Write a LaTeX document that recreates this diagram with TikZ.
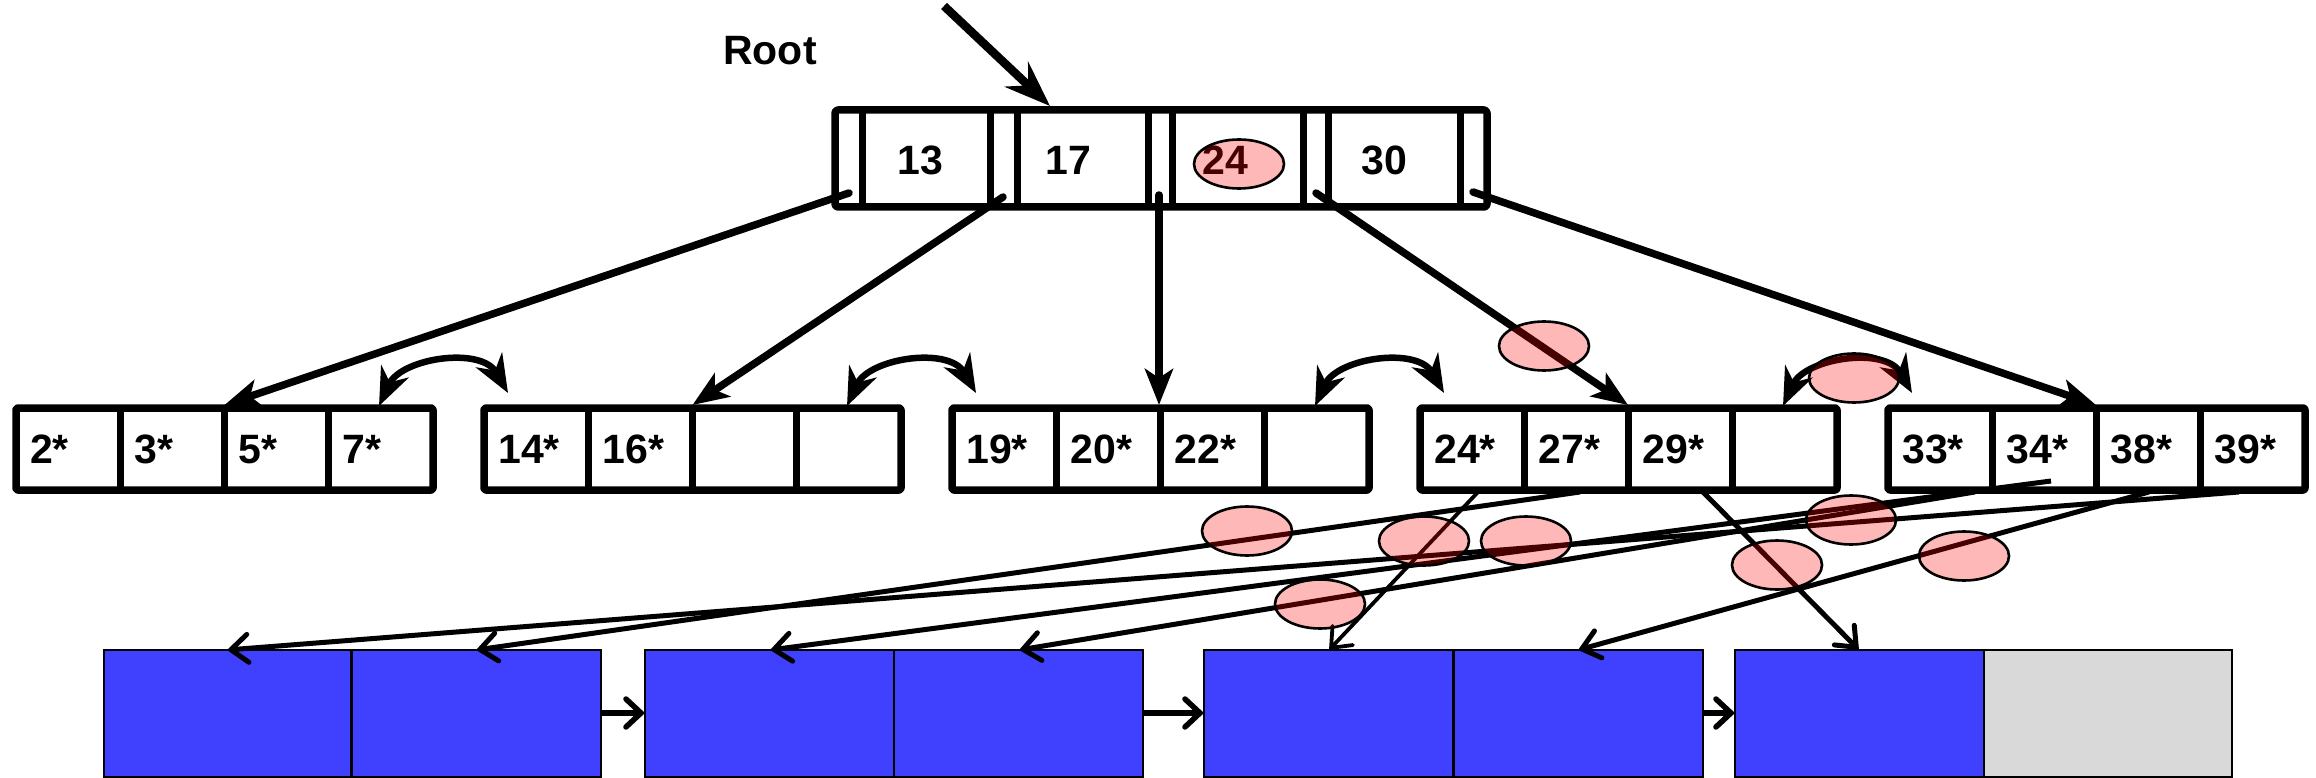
\documentclass[tikz,border=0pt]{standalone}
\usepackage{fontspec}
\setmainfont{Liberation Sans}
\usetikzlibrary{arrows.meta,shapes.geometric}
\definecolor{pageblue}{RGB}{64,64,255}
\definecolor{pagegrey}{RGB}{217,217,217}

\begin{document}
\begin{tikzpicture}[x=1pt,y=-1pt,
  keytext/.style={font=\fontsize{41}{48}\selectfont\bfseries, inner sep=0pt},
  boxline/.style={line width=7.5pt, line join=round},
  divline/.style={line width=7pt},
  downarrow/.style={line width=7.5pt, line cap=round,
    -{Stealth[length=36pt,width=28pt,inset=9pt]}},
  entryarrow/.style={line width=8.5pt,
    -{Stealth[length=46pt,width=34pt,inset=16pt]}},
  siblink/.style={line width=6.5pt,
    {Stealth[length=38pt,width=30pt,inset=12pt]}-{Stealth[length=38pt,width=30pt,inset=12pt]}},
  pageptr/.style={line width=5pt,
    -{Straight Barb[length=17pt,width=28pt,line cap=round]}},
  thinptr/.style={line width=3.8pt,
    -{Straight Barb[length=17pt,width=28pt,line cap=round]}},
  chainptr/.style={line width=5.5pt,
    -{Straight Barb[length=15pt,width=28pt,line cap=round]}},
  pageblk/.style={draw=black, line width=2.2pt, fill=pageblue},
  freeblk/.style={draw=black, line width=2.2pt, fill=pagegrey},
  hilite/.style={ellipse, draw=black, line width=2.6pt, fill=red, fill opacity=0.28,
    draw opacity=1, minimum width=90pt, minimum height=49pt, inner sep=0pt}
]
\useasboundingbox (0,0) rectangle (2316,778);

% ---------- data pages ----------
\draw[pageblk] (103.6,650) rectangle (351.5,777);
\draw[pageblk] (351.5,650) rectangle (601,777);
\draw[pageblk] (645,650) rectangle (894,777);
\draw[pageblk] (894,650) rectangle (1143,777);
\draw[pageblk] (1204,650) rectangle (1453.5,777);
\draw[pageblk] (1453.5,650) rectangle (1703,777);
\draw[pageblk] (1735,650) rectangle (1984,777);
\draw[freeblk] (1984,650) rectangle (2232,777);

% page entry points (top centres) and chain ends
\coordinate (p1) at (227,650);
\coordinate (p2) at (476,650);
\coordinate (p3) at (770,650);
\coordinate (p4) at (1019,650);
\coordinate (p5) at (1329,650);
\coordinate (p6) at (1578,650);
\coordinate (p7) at (1859,650);
\coordinate (c1a) at (601,713);  \coordinate (c1b) at (645,713);
\coordinate (c2a) at (1143,713); \coordinate (c2b) at (1204,713);
\coordinate (c3a) at (1703,713); \coordinate (c3b) at (1735,713);

% ---------- leaf level ----------
\foreach \L in {16,484,952,1420,1888} {
  \draw[boxline, rounded corners=2pt] (\L,408) rectangle ++(417,82);
  \foreach \k in {1,2,3}
    \draw[divline] (\L+104.25*\k,408) -- (\L+104.25*\k,490);
}

\foreach \n/\x/\t in {
  a/16/2*, b/120.25/3*, c/224.5/5*, d/328.75/7*,
  e/484/14*, f/588.25/16*,
  g/952/19*, h/1056.25/20*, i/1160.5/22*,
  j/1420/24*, k/1524.25/27*, l/1628.5/29*,
  m/1888/33*, n/1992.25/34*, o/2096.5/38*, p/2200.75/39*}
  \node[keytext, anchor=base west] (leafkey-\n) at (\x+14,463) {\t};

% ---------- root ----------
\draw[boxline, rounded corners=3pt] (835,110) rectangle (1487,207);
\foreach \x in {862,990,1017,1148,1172,1303,1328,1460}
  \draw[divline] (\x,110) -- (\x,207);
\node[keytext, anchor=base] (rk13) at (920,175) {13};
\node[keytext, anchor=base] (rk17) at (1068,175) {17};
\node[keytext, anchor=base] (rk24) at (1225,175) {24};
\node[keytext, anchor=base] (rk30) at (1384,175) {30};
\node[keytext, anchor=base] (rootlabel) at (770,65) {Root};

\coordinate (rin) at (944,6);
\coordinate (rtop) at (1050,106);
\draw[entryarrow] (rin) -- (rtop);

% child pointers of the root
\coordinate (s0) at (849,193);  \coordinate (t0) at (224.5,405);
\coordinate (s1) at (1003,197); \coordinate (t1) at (692.5,405);
\coordinate (s2) at (1159,195); \coordinate (t2) at (1159,405);
\coordinate (s3) at (1316,193); \coordinate (t3) at (1628,405);
\coordinate (s4) at (1473,192); \coordinate (t4) at (2096,405);
\foreach \i in {0,...,4}
  \draw[downarrow] (s\i) -- (t\i);

% sibling links between leaves
\foreach \L [count=\i] in {16,484,952,1420} {
  \coordinate (sa\i) at (\L+363,406);
  \coordinate (sb\i) at (\L+492,393);
  \draw[siblink] (sa\i) .. controls (\L+385,358) and (\L+465,346) .. (sb\i);
}

% leaf entries pointing to data pages
\coordinate (e1) at (2239,492);
\coordinate (e2) at (1580,492);
\coordinate (e3) at (2051,481);
\coordinate (e4) at (1975,492);
\coordinate (e5) at (1478,492);
\coordinate (e6) at (2149,492);
\coordinate (e7) at (1703,492);
\draw[pageptr] (e1) -- (p1);
\draw[pageptr] (e2) -- (p2);
\draw[pageptr] (e3) -- (p3);
\draw[pageptr] (e4) -- (p4);
\draw[thinptr] (e5) -- (p5);
\draw[pageptr] (e6) -- (p6);
\draw[pageptr] (e7) -- (p7);

% page chain
\draw[chainptr] (c1a) -- (c1b);
\draw[chainptr] (c2a) -- (c2b);
\draw[chainptr] (c3a) -- (c3b);

% ---------- highlighted spots ----------
\node[hilite] (h0) at (1239,164) {};
\node[hilite] (h1) at (1544,346) {};
\node[hilite] (h2) at (1854,378) {};
\node[hilite] (h3) at (1247,531) {};
\node[hilite] (h4) at (1424,541) {};
\node[hilite] (h5) at (1526,541) {};
\node[hilite] (h6) at (1320,604) {};
\node[hilite] (h7) at (1851,520) {};
\node[hilite] (h8) at (1777,565) {};
\node[hilite] (h9) at (1964,556) {};
\end{tikzpicture}
\end{document}
